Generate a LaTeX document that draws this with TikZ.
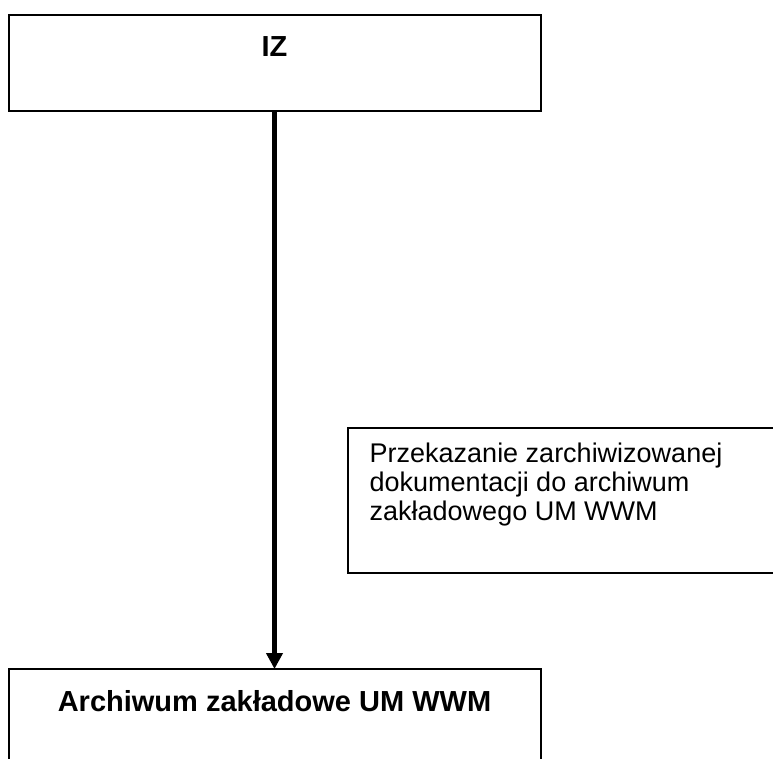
\documentclass[tikz,border=0pt]{standalone}
\usepackage{fontspec}
\setmainfont{Liberation Sans}
\usetikzlibrary{arrows.meta}
\tikzset{
  boxed/.style={draw=black, line width=2pt, rectangle, inner sep=0pt, outer sep=0pt, anchor=north west},
  boldlbl/.style={font=\fontsize{29}{34}\selectfont\bfseries, inner sep=0pt, anchor=base},
  plainlbl/.style={font=\fontsize{27}{29}\selectfont, inner sep=0pt, anchor=north west, align=left},
  flow/.style={line width=5pt, -{Triangle[width=16pt,length=16pt]}}
}
\begin{document}
\begin{tikzpicture}[x=1pt,y=-1pt]
\clip (0,0) rectangle (773,758);
\useasboundingbox (0,0) rectangle (773,758);
\node[boxed, minimum width=532pt, minimum height=96.5pt] (iz) at (8.5,14.5) {};
\node[boldlbl] (izt) at (274.5,56) {IZ};
\node[boxed, minimum width=532pt, minimum height=140pt] (arch) at (8.5,669) {};
\node[boldlbl] (archt) at (274.5,711) {Archiwum zakładowe UM WWM};
\node[boxed, minimum width=460pt, minimum height=145pt] (note) at (347.5,427.5) {};
\node[plainlbl] (notet) at (369.5,443) {Przekazanie zarchiwizowanej\\dokumentacji do archiwum\\zakładowego UM WWM};
\draw[flow] (iz.south) -- (arch.north);
\end{tikzpicture}
\end{document}
